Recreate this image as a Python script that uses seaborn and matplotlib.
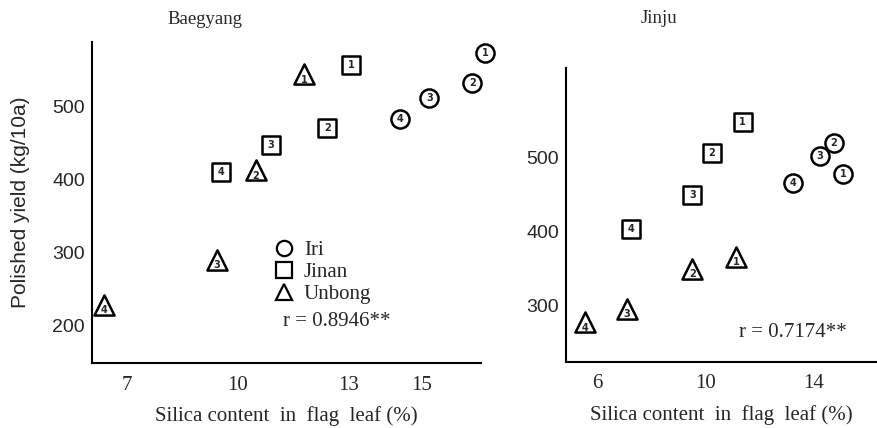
import numpy as np
import pandas as pd
import matplotlib
matplotlib.use("Agg")
import matplotlib.pyplot as plt
from matplotlib.lines import Line2D
import seaborn as sns

# DATA
sites = ['Iri', 'Jinan', 'Unbong']
ranks = ['1', '2', '3', '4']

# Baegyang
bg_iri_x = [16.72, 16.36, 15.20, 14.41]
bg_iri_y = [574, 533, 512, 483]
bg_jinan_x = [13.07, 12.43, 10.89, 9.53]
bg_jinan_y = [558, 471, 448, 411]
bg_unbong_x = [11.80, 10.48, 9.44, 6.36]
bg_unbong_y = [545, 413, 290, 228]

# Jinju
jj_iri_x = [15.09, 14.75, 14.24, 13.22]
jj_iri_y = [477, 519, 501, 465]
jj_jinan_x = [11.38, 10.23, 9.52, 7.24]
jj_jinan_y = [548, 505, 449, 404]
jj_unbong_x = [11.14, 9.52, 7.10, 5.55]
jj_unbong_y = [366, 350, 296, 278]

bg_ticks_x = [7, 10, 13, 15]
jj_ticks_x = [6, 10, 14]
bg_ticks_y = [200, 300, 400, 500]
jj_ticks_y = [300, 400, 500]

r_bg = "r = 0.8946**"
r_jj = "r = 0.7174**"


def make_df(xs, ys):
    rows = []
    for site, x, y in zip(sites, xs, ys):
        for k, (a, b) in enumerate(zip(x, y)):
            rows.append({'site': site, 'rank': ranks[k], 'silica': a, 'yield': b})
    return pd.DataFrame(rows)


df_bg = make_df([bg_iri_x, bg_jinan_x, bg_unbong_x], [bg_iri_y, bg_jinan_y, bg_unbong_y])
df_jj = make_df([jj_iri_x, jj_jinan_x, jj_unbong_x], [jj_iri_y, jj_jinan_y, jj_unbong_y])

sns.set_theme(style="white")
plt.rcParams['font.family'] = ['Liberation Serif', 'DejaVu Serif']

marker_map = {'Iri': 'o', 'Jinan': 's', 'Unbong': '^'}
size_map = {'Iri': 170, 'Jinan': 160, 'Unbong': 210}

fig = plt.figure(figsize=(8.78, 4.28), dpi=100)
ax1 = fig.add_axes([92/878, 1-363/428, 389/878, 321/428])
ax2 = fig.add_axes([566/878, 1-362/428, 310/878, 294/428])


def draw_panel(ax, df, xlim, ylim, xt, yt):
    for site in sites:
        sub = df[df['site'] == site]
        sns.scatterplot(data=sub, x='silica', y='yield', marker=marker_map[site],
                        s=size_map[site], color='white', edgecolor='black',
                        linewidth=1.8, legend=False, ax=ax, clip_on=False, zorder=3)
    # numbers inside the markers
    for _, r in df.iterrows():
        dy = -4 if r['site'] == 'Unbong' else 0
        ax.annotate(r['rank'], (r['silica'], r['yield']), xytext=(0, dy),
                    textcoords='offset points', ha='center', va='center',
                    fontsize=7, fontweight='bold', family='DejaVu Sans',
                    annotation_clip=False, zorder=4)
    ax.set_xlim(*xlim)
    ax.set_ylim(*ylim)
    ax.set_xticks(xt)
    ax.set_yticks(yt)
    sns.despine(ax=ax)
    for s in ['left', 'bottom']:
        ax.spines[s].set_color('black')
        ax.spines[s].set_linewidth(1.5)
    ax.tick_params(axis='both', direction='in', length=4, width=1, color='black')
    ax.tick_params(axis='x', pad=9, labelsize=15)
    ax.tick_params(axis='y', pad=5, labelsize=14)
    for lab in ax.get_yticklabels():
        lab.set_family('Liberation Sans')
    ax.set_xlabel("Silica content  in  flag  leaf (%)", fontsize=15, labelpad=8)
    ax.set_ylabel("")


draw_panel(ax1, df_bg, (6.04, 16.6), (148, 589), bg_ticks_x, bg_ticks_y)
draw_panel(ax2, df_jj, (4.85, 16.3), (224.5, 620), jj_ticks_x, jj_ticks_y)

ax1.set_ylabel("Polished yield (kg/10a)", fontsize=15, family='Liberation Sans', labelpad=16)

ax1.text(0.29, 1.07, "Baegyang", transform=ax1.transAxes, ha='center', va='center', fontsize=13.5)
ax2.text(0.30, 1.17, "Jinju", transform=ax2.transAxes, ha='center', va='center', fontsize=13.5)

ax1.text(0.491, 0.128, r_bg, transform=ax1.transAxes, ha='left', va='center', fontsize=15)
ax2.text(0.558, 0.102, r_jj, transform=ax2.transAxes, ha='left', va='center', fontsize=15)

handles = [Line2D([], [], marker=marker_map[s], linestyle='none', markersize=11,
                  markerfacecolor='white', markeredgecolor='black', markeredgewidth=1.6)
           for s in sites]
ax1.legend(handles, sites, loc='upper left', bbox_to_anchor=(0.47, 0.381),
           frameon=False, fontsize=15, handlelength=0.9, handletextpad=0.5,
           labelspacing=0.12, borderpad=0, borderaxespad=0)

fig.savefig("out.png", dpi=100)
